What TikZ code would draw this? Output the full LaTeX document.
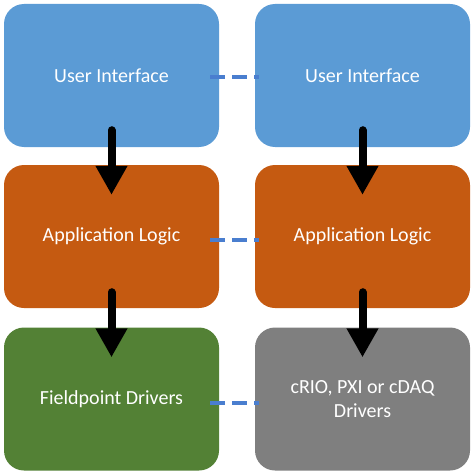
\documentclass[tikz,border=0pt]{standalone}
\usepackage{fontspec}
\setmainfont{Carlito}
\usetikzlibrary{arrows.meta}
\definecolor{uiblue}{RGB}{91,155,213}
\definecolor{alorange}{RGB}{197,90,17}
\definecolor{fpgreen}{RGB}{83,129,53}
\definecolor{drvgray}{RGB}{127,127,127}
\definecolor{dashblue}{RGB}{74,126,207}
\tikzset{
  layer/.style={rectangle, rounded corners=20pt, minimum width=215pt, minimum height=143pt, inner sep=0pt, text=white, align=center, font=\fontsize{20}{24}\selectfont},
  bigarrow/.style={line width=8pt, line cap=round, -{Triangle[width=30pt,length=29pt]}},
  link/.style={line width=4pt, dashblue, dash pattern=on 15pt off 7pt}
}
\begin{document}
\begin{tikzpicture}[x=1pt,y=-1pt]
\useasboundingbox (0,0) rectangle (475,476);
\node[layer, fill=uiblue] (ui1) at (111.5,75.5) {User Interface};
\node[layer, fill=uiblue] (ui2) at (362.5,75.5) {User Interface};
\node[layer, fill=alorange] (al1) at (111.5,236.5) {Application Logic};
\node[layer, fill=alorange] (al2) at (362.5,236.5) {Application Logic};
\node[layer, fill=fpgreen] (fp1) at (111.5,399) {Fieldpoint Drivers};
\node[layer, fill=drvgray] (dr2) at (362.5,399) {cRIO, PXI or cDAQ\\Drivers};
\draw[bigarrow] ([yshift=17pt]ui1.south) -- ([yshift=-30pt]al1.north);
\draw[bigarrow] ([yshift=17pt]ui2.south) -- ([yshift=-30pt]al2.north);
\draw[bigarrow] ([yshift=16pt]al1.south) -- ([yshift=-30pt]fp1.north);
\draw[bigarrow] ([yshift=16pt]al2.south) -- ([yshift=-30pt]dr2.north);
\draw[link] ([xshift=-9pt,yshift=-2pt]ui1.east) -- ([xshift=4pt,yshift=-2pt]ui2.west);
\draw[link] ([xshift=-9pt,yshift=-3pt]al1.east) -- ([xshift=4pt,yshift=-3pt]al2.west);
\draw[link] ([xshift=-9pt,yshift=-4pt]fp1.east) -- ([xshift=4pt,yshift=-4pt]dr2.west);
\end{tikzpicture}
\end{document}
